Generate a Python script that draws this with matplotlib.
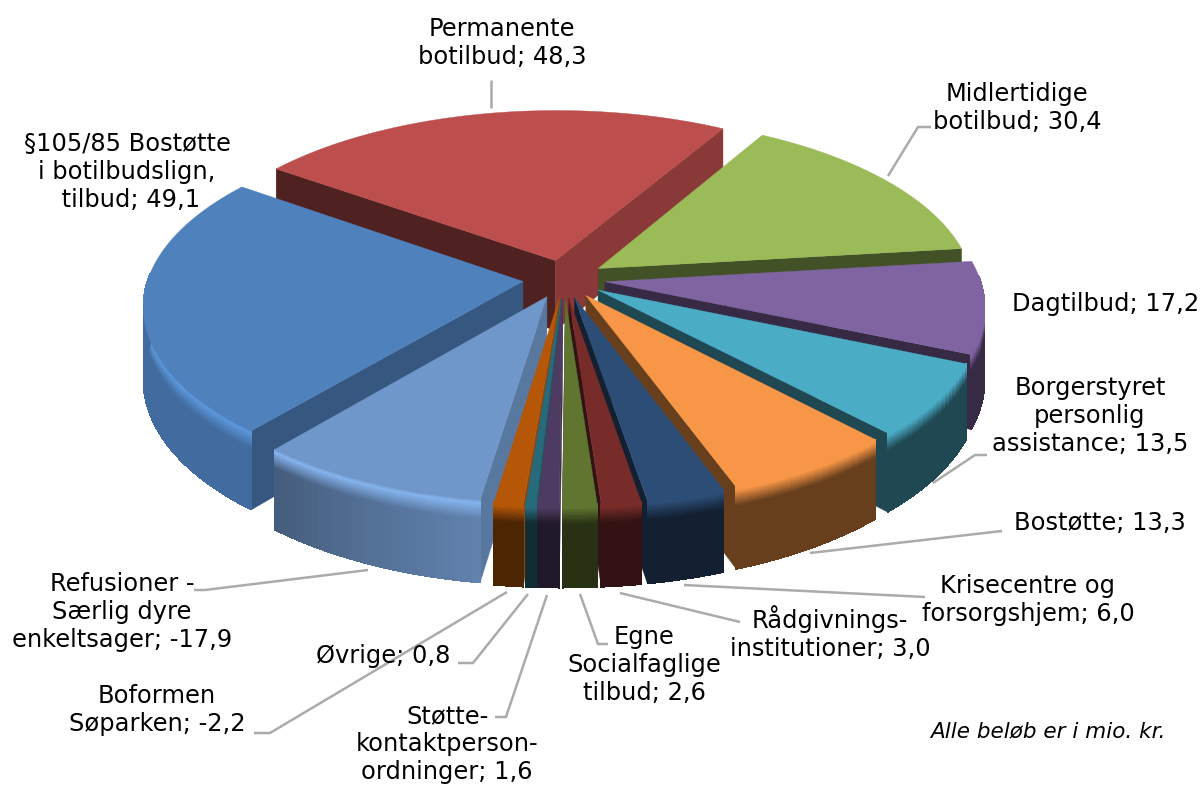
import numpy as np
import matplotlib
matplotlib.use("Agg")
import matplotlib.pyplot as plt
from matplotlib.colors import to_rgb
from matplotlib.collections import PolyCollection

# ---- data ----
names = ["Permanente\nbotilbud", "Midlertidige\nbotilbud", "Dagtilbud",
         "Borgerstyret\npersonlig\nassistance", "Bostøtte", "Krisecentre og\nforsorgshjem",
         "Rådgivnings-\ninstitutioner", "Egne\nSocialfaglige\ntilbud",
         "Støtte-\nkontaktperson-\nordninger", "Øvrige", "Boformen\nSøparken",
         "Refusioner -\nSærlig dyre\nenkeltsager", "§105/85 Bostøtte\ni botilbudslign.\n tilbud"]
values = [48.3, 30.4, 17.2, 13.5, 13.3, 6.0, 3.0, 2.6, 1.6, 0.8, -2.2, -17.9, 49.1]
colors = ["#BC4F4D", "#9BBB59", "#8064A2", "#4BACC6", "#F79646", "#2C4D75", "#772C2A",
          "#5F7530", "#4D3B62", "#276A7C", "#B65708", "#7097C9", "#4F81BD"]
note = "Alle beløb er i mio. kr."

# ---- projection / style ----
CX, CY, RX, RY, PERSP, H, EXPL = 564, 279, 375, 174, 0.13, 71, 0.11
START = 144.4
draw_order = [0, 1, 12, 2, 3, 11, 4, 5, 10, 9, 8, 6, 7]
wall_f = {11: (0.86, 0.62), 12: (0.84, 0.84)}   # brighter blue walls (arc start -> arc end, left to right)
rim_f = {11: 1.18, 12: 1.16}

label_pos = [(502, 43), (1017, 108), (1106, 304), (1090, 416), (1100, 523), (1028, 600),
             (830, 633), (644, 665), (447, 744), (383, 656), (157, 710), (122, 612), (127, 172)]
leaders = [[(491, 80), (491, 108)], [(888, 176), (918, 127), (931, 127)], None,
           [(933, 483), (975, 455), (987, 455)], [(810, 553), (1002, 531)],
           [(684, 585), (925, 597)], [(620, 593), (740, 622)], [(580, 594), (598, 644), (608, 644)],
           [(547, 595), (506, 717), (495, 717)], [(528, 594), (473, 663), (458, 663)],
           [(507, 592), (270, 733), (254, 733)], [(368, 570), (205, 590), (194, 590)], None]


def proj(X, Y, z=0.0):
    d = 1 + PERSP * Y
    return CX + RX * X / d, CY - RY * Y / d + H * z / d


def shade(c, f):
    return tuple(np.clip(np.array(to_rgb(c)) * f, 0, 1))


def mix(a, b, t):
    return tuple(np.array(a) * (1 - t) + np.array(b) * t)


def cut_f(nx):
    return 0.42 + 0.38 * max(0.0, nx) ** 1.5


fig = plt.figure(figsize=(12.04, 7.85), dpi=100)
ax = fig.add_axes([0, 0, 1, 1])
ax.set_xlim(0, 1204)
ax.set_ylim(785, 0)
ax.axis("off")

spans = np.abs(values) / np.abs(values).sum() * 360
ends = START - np.cumsum(spans)
starts = ends + spans

zl = np.concatenate([np.linspace(0, 0.24, 13), np.linspace(0.24, 1, 5)[1:]])

for order, i in enumerate(draw_order):
    zo = 1 + order * 0.01
    a0, a1, col = starts[i], ends[i], colors[i]
    mid = np.radians((a0 + a1) / 2)
    ox, oy = EXPL * np.cos(mid), EXPL * np.sin(mid)
    th = np.radians(np.linspace(a0, a1, max(4, int(spans[i] / 1.2))))
    ax_x, ax_y = ox + np.cos(th), oy + np.sin(th)

    # radial cut faces (only those turned towards the viewer)
    for idx, sgn in ((0, -1), (-1, 1)):
        a = th[idx]
        nx, ny = sgn * np.sin(a), -sgn * np.cos(a)
        if ny > 0.02:
            continue
        ts = np.linspace(0, 1, 12)
        px = ox + ts * np.cos(a)
        py = oy + ts * np.sin(a)
        top = np.column_stack(proj(px, py, 0))
        bot = np.column_stack(proj(px, py, 1))
        ax.fill(*np.vstack([top, bot[::-1]]).T, color=shade(col, cut_f(nx)), lw=0.3, zorder=zo)

    # outer wall (front-facing part only): smooth silhouette first, then bands for the shading
    front = np.sin(th) < 0.05
    fs = wall_f.get(i, (0.42, 0.42))
    if front.sum() >= 2:
        top_arc = np.column_stack(proj(ax_x[front], ax_y[front], 0))
        bot_arc = np.column_stack(proj(ax_x[front], ax_y[front], 1))
        ax.fill(*np.vstack([top_arc, bot_arc[::-1]]).T, color=shade(col, (fs[0] + fs[1]) / 2),
                lw=0.4, zorder=zo)
    quads, fc = [], []
    base = to_rgb(col)
    hi = shade(col, rim_f.get(i, 1.0))
    for k in range(len(th) - 1):
        if not (front[k] and front[k + 1]):
            continue
        u = k / max(1, len(th) - 2)
        f = fs[0] * (1 - u) + fs[1] * u
        wall = shade(col, f)
        for j in range(len(zl) - 1):
            z0, z1 = zl[j], zl[j + 1]
            zm = (z0 + z1) / 2
            if zm < 0.05:
                c = mix(base, hi, zm / 0.05)
            elif zm < 0.24:
                c = mix(hi, wall, (zm - 0.05) / 0.19)
            else:
                c = wall
            quads.append([proj(ax_x[k], ax_y[k], z0), proj(ax_x[k + 1], ax_y[k + 1], z0),
                          proj(ax_x[k + 1], ax_y[k + 1], z1), proj(ax_x[k], ax_y[k], z1)])
            fc.append(c)
    if quads:
        ax.add_collection(PolyCollection(quads, facecolors=fc, edgecolors=fc, linewidths=0.5,
                                         antialiased=False, zorder=zo))

    # top face
    sx, sy = proj(np.concatenate([[ox], ax_x]), np.concatenate([[oy], ax_y]))
    ax.fill(sx, sy, color=col, lw=0.3, zorder=zo)

# leader lines
for pts in leaders:
    if pts:
        ax.plot(*zip(*pts), color="#ababab", lw=1.8, solid_capstyle="butt", zorder=3)

# labels
for nm, v, (x, y) in zip(names, values, label_pos):
    txt = f"{nm}; {v:.1f}".replace(".", ",")
    ax.text(x, y, txt, ha="center", va="center", fontsize=17.4, family="DejaVu Sans",
            linespacing=1.2, color="black", zorder=4)
ax.text(1048, 731, note, ha="center", va="center", fontsize=15.5, style="italic",
        family="DejaVu Sans", color="black", zorder=4)

fig.savefig("out.png", dpi=100)
